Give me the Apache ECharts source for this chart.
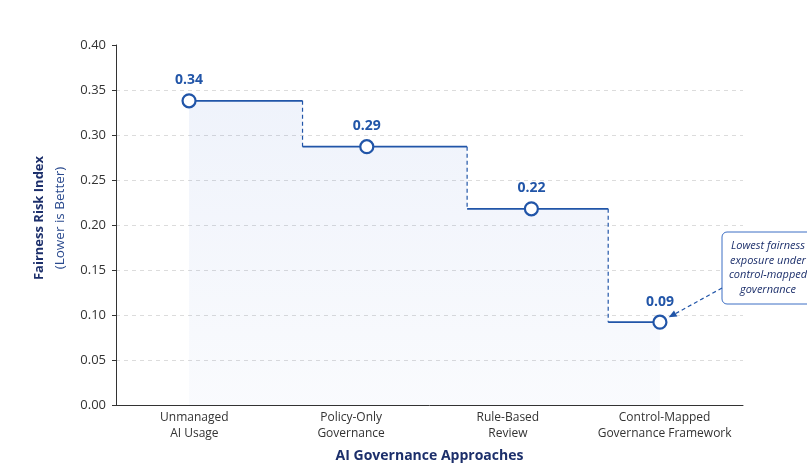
<!DOCTYPE html>
<html>
<head>
<meta charset="utf-8">
<script src="https://cdn.jsdelivr.net/npm/echarts@6/dist/echarts.min.js"></script>
<style>
html,body{margin:0;padding:0;background:#fff;}
#chart{width:807px;height:465px;}
</style>
</head>
<body>
<div id="chart"></div>
<script>
// ---- data ----
var categories = ['Unmanaged\nAI Usage', 'Policy-Only\nGovernance', 'Rule-Based\nReview', 'Control-Mapped\nGovernance Framework'];
var riskValues = [0.338, 0.287, 0.218, 0.092];
var riskLabels = ['0.34', '0.29', '0.22', '0.09'];
// position of each approach's marker along the category axis (category units)
var pointPositions = [-0.034, 1.10, 2.15, 2.97];
// positions where the step drops to the next level (category units)
var stepEdges = [0.69, 1.74, 2.64];
var yTicks = [0, 0.05, 0.10, 0.15, 0.20, 0.25, 0.30, 0.35, 0.40];
var annotationText = ['Lowest fairness', 'exposure under', 'control-mapped', 'governance'];

var BLUE = '#2155a8';
var NAVY = '#1c2f6b';
var FONT = '"Open Sans", "Noto Sans", sans-serif';

// build step path
var areaPath = [];
var horiz = [];
var verts = [];
for (var i = 0; i < riskValues.length; i++) {
  var start = i === 0 ? pointPositions[0] : stepEdges[i - 1];
  var end = i < stepEdges.length ? stepEdges[i] : pointPositions[i];
  areaPath.push([start, riskValues[i]]);
  areaPath.push([end, riskValues[i]]);
  horiz.push([start, riskValues[i]]);
  horiz.push([end, riskValues[i]]);
  horiz.push([end, '-']);
  if (i < stepEdges.length) {
    verts.push([stepEdges[i], riskValues[i]]);
    verts.push([stepEdges[i], riskValues[i + 1]]);
    verts.push([stepEdges[i], '-']);
  }
}
var points = riskValues.map(function (v, i) { return [pointPositions[i], v]; });

var chart = echarts.init(document.getElementById('chart'), null, {renderer: 'canvas'});
chart.setOption({
  backgroundColor: '#fff',
  animation: false,
  textStyle: {fontFamily: FONT},
  grid: {left: 116, right: 64, top: 45, bottom: 60, containLabel: false, outerBoundsMode: 'none'},
  xAxis: [{
    type: 'category',
    data: categories,
    boundaryGap: true,
    axisLine: {lineStyle: {color: '#333', width: 1}},
    axisTick: {show: false},
    axisLabel: {color: '#333', fontSize: 12, lineHeight: 16, margin: 5, interval: 0, fontFamily: FONT},
    splitLine: {show: false},
    name: 'AI Governance Approaches',
    nameLocation: 'middle',
    nameGap: 44,
    nameTextStyle: {color: NAVY, fontSize: 14, fontWeight: 'bold', fontFamily: FONT}
  }, {
    type: 'value',
    min: -0.5,
    max: 3.5,
    show: false,
    splitLine: {show: false}
  }],
  yAxis: {
    type: 'value',
    min: yTicks[0],
    max: yTicks[yTicks.length - 1],
    interval: yTicks[1] - yTicks[0],
    axisLine: {show: true, onZero: false, lineStyle: {color: '#333', width: 1}},
    axisTick: {show: true, length: 4, lineStyle: {color: '#333'}},
    axisLabel: {color: '#333', fontSize: 13, margin: 10, fontFamily: FONT,
      formatter: function (v) { return v.toFixed(2); }},
    splitLine: {show: true, showMaxLine: false, showMinLine: false, lineStyle: {color: '#dcdcdc', type: [4, 4], width: 1}},
    name: '{a|Fairness Risk Index}\n{b|(Lower is Better)}',
    nameLocation: 'middle',
    nameRotate: 90,
    nameGap: 45,
    nameTextStyle: {
      padding: [0, 0, 0, 14],
      rich: {
        a: {color: NAVY, fontSize: 13, fontWeight: 'bold', fontFamily: FONT, lineHeight: 21},
        b: {color: '#2a4a8e', fontSize: 13.5, fontFamily: FONT, lineHeight: 21}
      }
    }
  },
  series: [{
    type: 'line',
    xAxisIndex: 1,
    data: areaPath,
    symbol: 'none',
    lineStyle: {width: 0},
    areaStyle: {
      color: new echarts.graphic.LinearGradient(0, 0, 0, 1, [
        {offset: 0, color: 'rgba(33,85,200,0.10)'},
        {offset: 1, color: 'rgba(33,85,200,0.035)'}
      ])
    },
    silent: true,
    z: 1
  }, {
    type: 'line',
    xAxisIndex: 1,
    data: verts,
    symbol: 'none',
    connectNulls: false,
    lineStyle: {color: BLUE, width: 1.2, type: [4, 3]},
    z: 2
  }, {
    type: 'line',
    xAxisIndex: 1,
    data: horiz,
    symbol: 'none',
    connectNulls: false,
    lineStyle: {color: BLUE, width: 1.8},
    z: 3
  }, {
    type: 'scatter',
    xAxisIndex: 1,
    data: points,
    symbol: 'circle',
    symbolSize: 13,
    itemStyle: {color: '#fff', borderColor: BLUE, borderWidth: 2.2, opacity: 1},
    label: {
      show: true, position: 'top', distance: 6,
      color: BLUE, fontSize: 14, fontWeight: 'bold', fontFamily: FONT,
      formatter: function (p) { return riskLabels[p.dataIndex]; }
    },
    z: 5
  }]
});

// annotation box and arrow, anchored to the last point
var last = points[points.length - 1];
var tp = chart.convertToPixel({xAxisIndex: 1, yAxisIndex: 0}, last);
var boxX = 722, boxY = 232, boxW = 94, boxH = 72;
var sx = boxX, sy = boxY + 56;
var dx = tp[0] - sx, dy = tp[1] - sy;
var len = Math.sqrt(dx * dx + dy * dy);
var ux = dx / len, uy = dy / len;
var ex = tp[0] - ux * 10, ey = tp[1] - uy * 10;
var ah = 8, aw = 3.5;
var bx = ex - ux * ah, by = ey - uy * ah;
chart.setOption({
  graphic: [{
    type: 'rect',
    shape: {x: boxX, y: boxY, width: boxW, height: boxH, r: 5},
    style: {fill: '#fff', stroke: '#3d6fc4', lineWidth: 1},
    z: 10
  }, {
    type: 'text',
    x: boxX + boxW / 2 - 1,
    y: boxY + boxH / 2,
    style: {
      text: annotationText.join('\n'),
      fill: NAVY,
      font: 'italic 11px ' + FONT,
      lineHeight: 14.5,
      align: 'center',
      verticalAlign: 'middle'
    },
    z: 11
  }, {
    type: 'line',
    shape: {x1: sx, y1: sy, x2: bx, y2: by},
    style: {stroke: BLUE, lineWidth: 1.2, lineDash: [4, 3]},
    z: 10
  }, {
    type: 'polygon',
    shape: {points: [[ex, ey], [bx - uy * aw, by + ux * aw], [bx + uy * aw, by - ux * aw]]},
    style: {fill: BLUE},
    z: 10
  }]
});
</script>
</body>
</html>
